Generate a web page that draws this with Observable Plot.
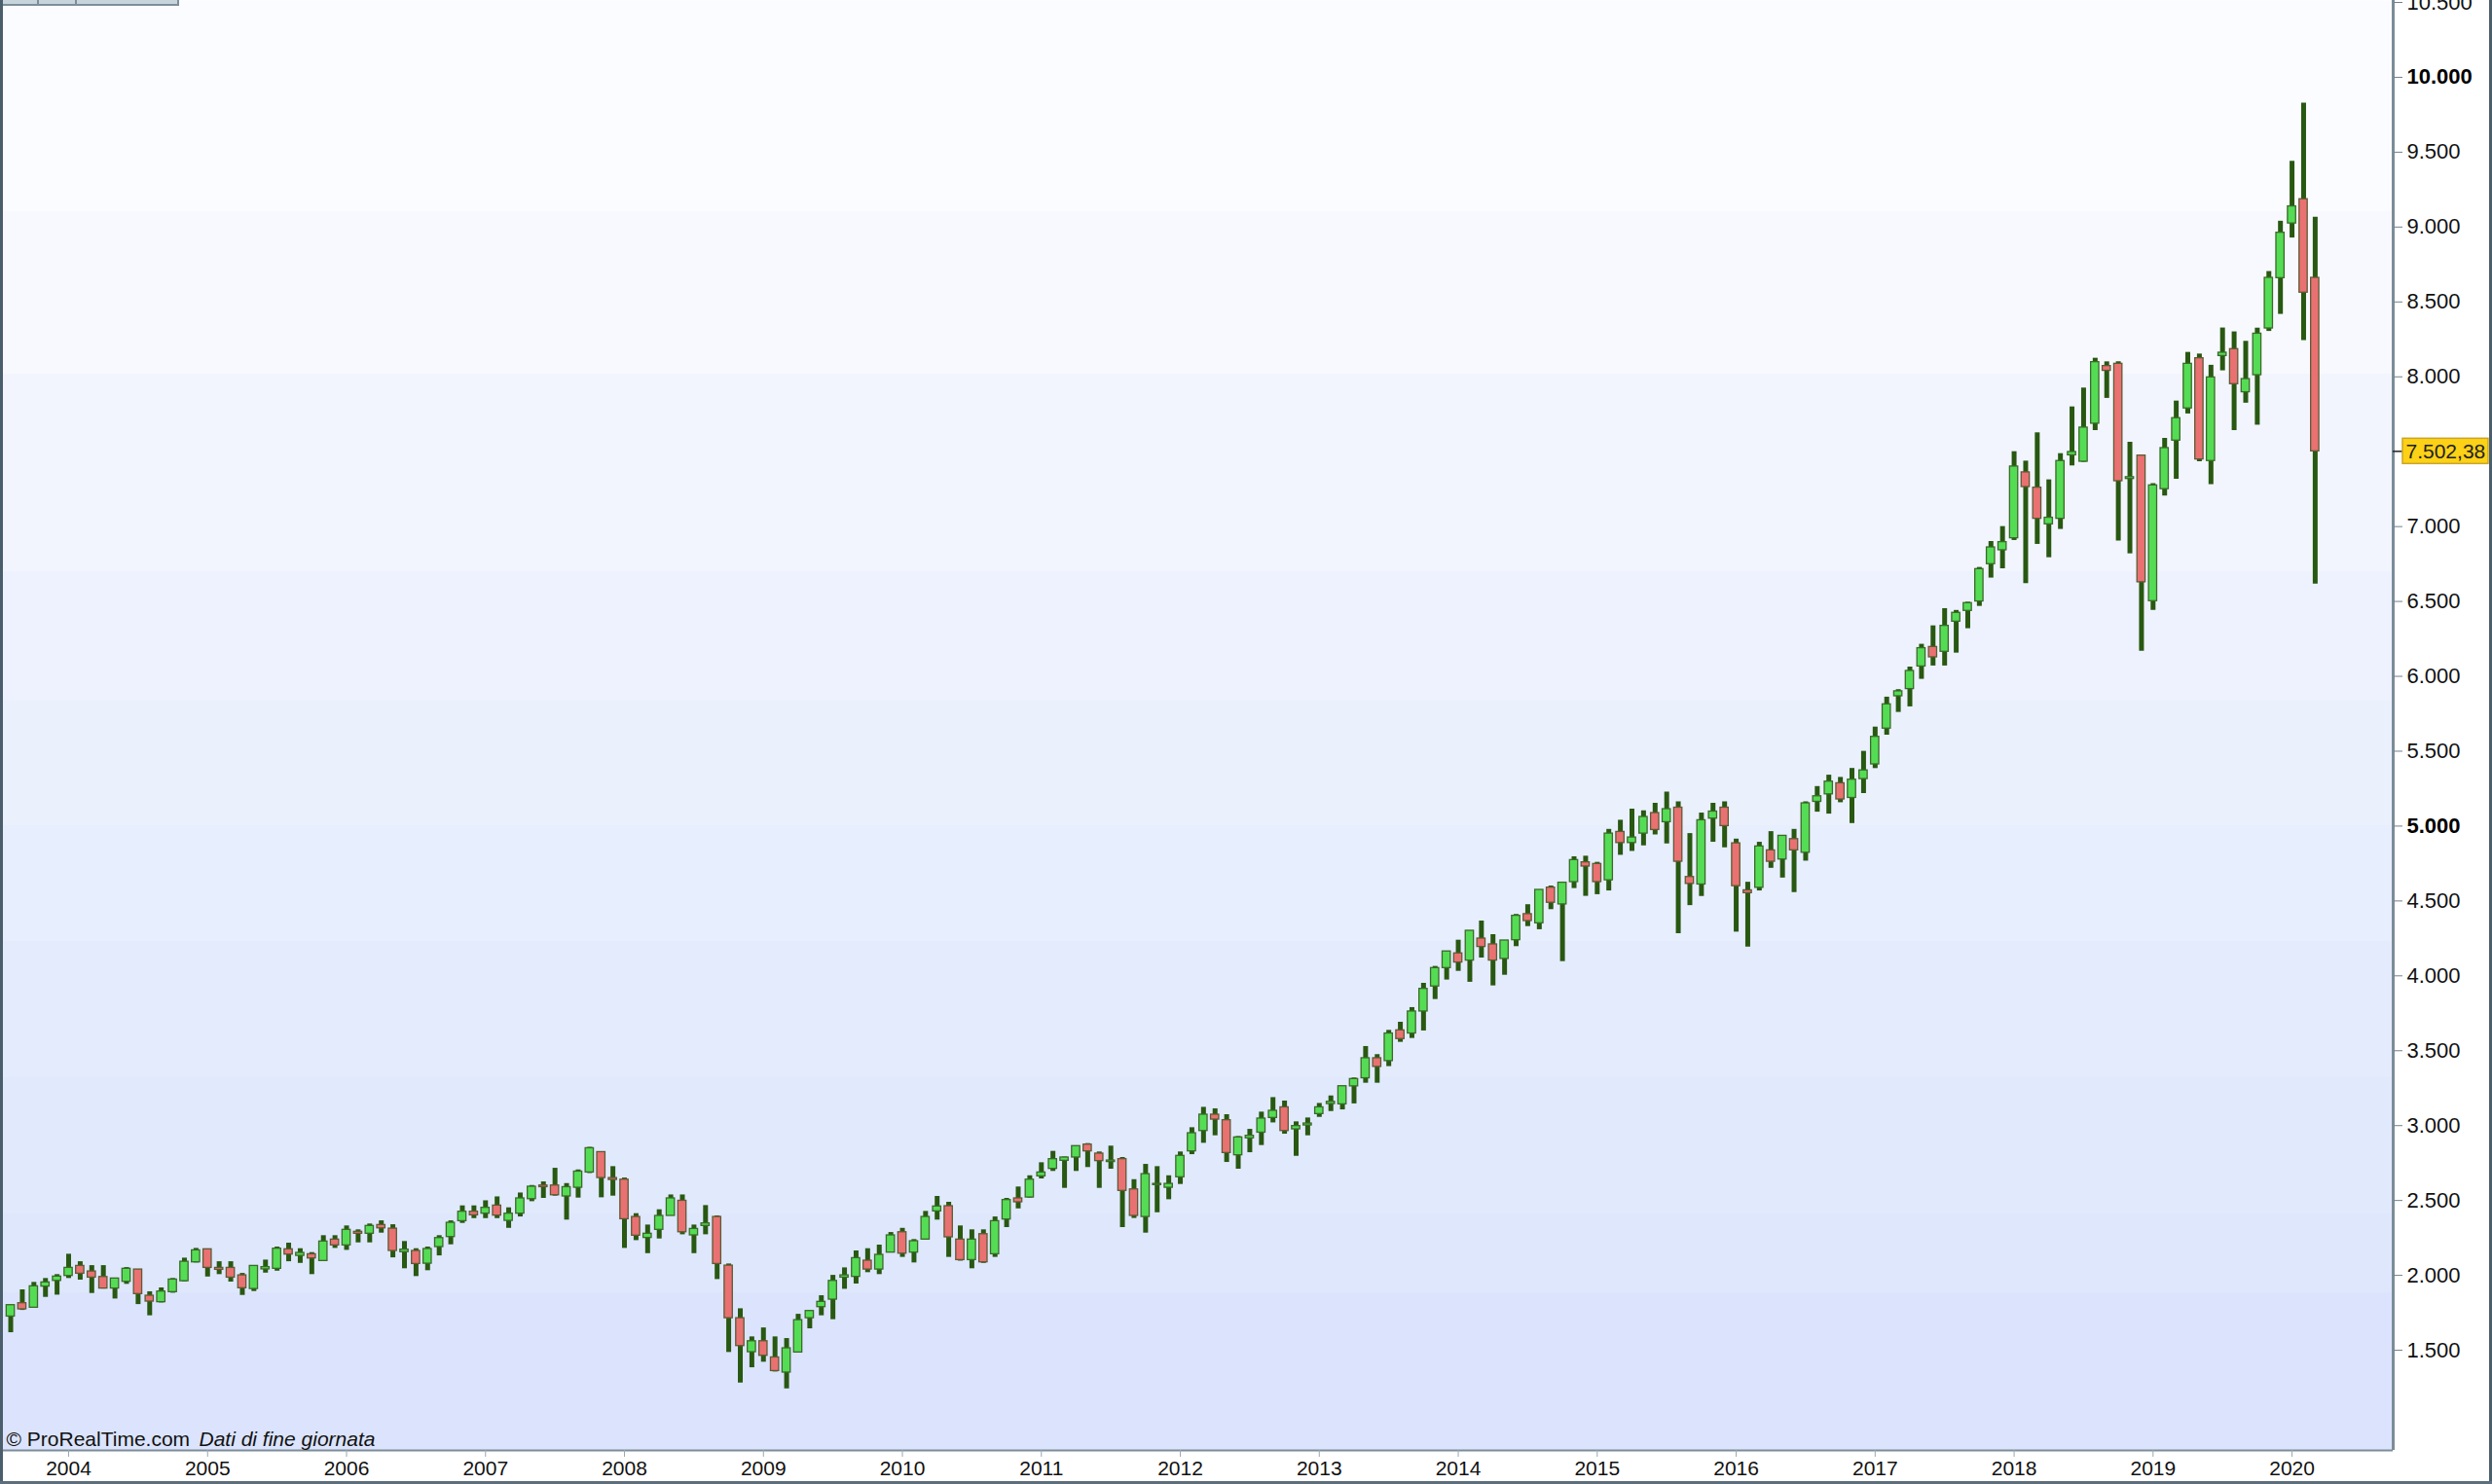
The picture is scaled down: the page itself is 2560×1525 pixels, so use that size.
<!DOCTYPE html>
<html>
<head>
<meta charset="utf-8">
<script src="https://cdn.jsdelivr.net/npm/d3@7"></script>
<script src="https://cdn.jsdelivr.net/npm/@observablehq/plot@0.6"></script>
<style>
  html, body { margin: 0; padding: 0; background: #ffffff; overflow: hidden; }
  #wrap { position: relative; width: 2560px; height: 1525px; overflow: hidden; font-family: "Liberation Sans", Arial, sans-serif; }
  #chart svg { display: block; max-width: none; }
  .edge { position: absolute; background: #4b5e6c; }
  #tabs { position: absolute; left: 0; top: 0; width: 182px; height: 4px; background: #c8d4dc; border-right: 2px solid #7d8e99; border-bottom: 2px solid #7d8e99; }
  #tabs .div { position: absolute; top: 0; width: 2px; height: 4px; background: #7d8e99; }
</style>
</head>
<body>
<div id="wrap">
  <div id="chart"></div>
  <div id="tabs"><div class="div" style="left:38px"></div><div class="div" style="left:77px"></div></div>
  <div class="edge" style="left:0;top:0;width:3px;height:1525px"></div>
  <div class="edge" style="left:2557px;top:0;width:3px;height:1525px"></div>
  <div class="edge" style="left:0;top:1522px;width:2560px;height:3px;background:#5d6f7c"></div>
</div>
<script>
// ---- Data: monthly candles, first candle = August 2003 ----
const firstMonth = [2003, 8];

const open = [
  1725, 1814, 1784, 1925, 1963,                                            // 2003 Aug-Dec
  1996, 2063, 2026, 1989, 1912, 1957, 2039, 1864, 1821, 1888, 1961, 2087,  // 2004
  2174, 2050, 2050, 2000, 1909, 2040, 2044, 2174, 2130, 2141, 2096, 2239,  // 2005
  2200, 2291, 2278, 2336, 2312, 2155, 2163, 2078, 2189, 2256, 2362, 2425,  // 2006
  2412, 2466, 2364, 2412, 2509, 2600, 2600, 2527, 2585, 2687, 2823, 2650,  // 2007
  2639, 2390, 2250, 2304, 2397, 2498, 2267, 2330, 2390, 2065, 1714, 1487,  // 2008
  1560, 1452, 1351, 1485, 1714, 1788, 1838, 1985, 1990, 2098, 2039, 2152,  // 2009
  2288, 2152, 2239, 2427, 2462, 2239, 2102, 2275, 2141, 2373, 2514, 2520,  // 2010
  2661, 2711, 2765, 2787, 2873, 2813, 2757, 2776, 2574, 2390, 2603, 2585,  // 2011
  2655, 2828, 2964, 3073, 3036, 2802, 2915, 2953, 3051, 3122, 2975, 3001,  // 2012
  3077, 3144, 3142, 3262, 3316, 3450, 3431, 3636, 3615, 3762, 3929, 4052,  // 2013
  4150, 4102, 4249, 4210, 4113, 4238, 4412, 4351, 4589, 4477, 4626, 4758,  // 2014
  4747, 4638, 4961, 4887, 4950, 5087, 5026, 5123, 4660, 4610, 5050, 5123,  // 2015
  4885, 4571, 4588, 4838, 4777, 4913, 4822, 5162, 5212, 5286, 5188, 5314,  // 2016
  5412, 5651, 5867, 5915, 6066, 6196, 6164, 6365, 6437, 6500, 6749, 6842,  // 2017
  6922, 7362, 7260, 7015, 7052, 7476, 7433, 7687, 8072, 8087, 7318, 7474,  // 2018
  6502, 7250, 7574, 7789, 8124, 7438, 8139, 8185, 7897, 8011, 8323, 8659,  // 2019
  9024, 9186, 8661                                                         // 2020 Jan-Mar
];
const high = [
  1801, 1903, 1953, 1979, 2005,
  2141, 2091, 2065, 2065, 1979, 2052, 2039, 1890, 1916, 1979, 2115, 2180,
  2174, 2091, 2091, 2013, 2063, 2102, 2189, 2215, 2178, 2152, 2265, 2265,
  2330, 2304, 2343, 2364, 2338, 2226, 2178, 2189, 2265, 2364, 2464, 2464,
  2498, 2524, 2451, 2550, 2600, 2624, 2715, 2613, 2704, 2855, 2823, 2726,
  2650, 2412, 2336, 2438, 2537, 2537, 2336, 2466, 2397, 2076, 1777, 1589,
  1649, 1589, 1578, 1740, 1762, 1864, 2000, 2050, 2163, 2178, 2202, 2286,
  2314, 2239, 2427, 2527, 2488, 2330, 2304, 2304, 2390, 2514, 2590, 2665,
  2752, 2828, 2790, 2863, 2880, 2824, 2863, 2787, 2639, 2741, 2726, 2665,
  2824, 2986, 3122, 3112, 3073, 2927, 2975, 3090, 3187, 3164, 3025, 3051,
  3148, 3198, 3263, 3318, 3528, 3474, 3636, 3690, 3788, 3950, 4063, 4163,
  4238, 4301, 4366, 4275, 4236, 4410, 4475, 4574, 4600, 4622, 4795, 4799,
  4758, 4978, 5039, 5113, 5102, 5152, 5227, 5162, 4950, 5087, 5152, 5162,
  4913, 4625, 4892, 4963, 4935, 4978, 5162, 5264, 5340, 5325, 5385, 5499,
  5661, 5861, 5911, 6062, 6214, 6337, 6452, 6440, 6495, 6727, 6900, 7000,
  7500, 7437, 7626, 7312, 7487, 7799, 7925, 8124, 8100, 8100, 7563, 7474,
  7286, 7589, 7838, 8163, 8152, 8077, 8326, 8300, 8237, 8325, 8703, 9039,
  9439, 9828, 9066
];
const low = [
  1617, 1766, 1784, 1853, 1868,
  1979, 1968, 1879, 1909, 1842, 1940, 1805, 1730, 1816, 1881, 1957, 2083,
  1989, 2005, 1955, 1866, 1892, 2015, 2028, 2091, 2080, 2005, 2096, 2180,
  2167, 2217, 2217, 2282, 2117, 2044, 1992, 2031, 2130, 2204, 2347, 2379,
  2379, 2379, 2314, 2390, 2492, 2514, 2529, 2369, 2516, 2680, 2518, 2529,
  2180, 2232, 2145, 2243, 2397, 2271, 2145, 2271, 1972, 1485, 1281, 1383,
  1420, 1355, 1242, 1485, 1643, 1730, 1704, 1907, 1942, 2018, 2005, 2152,
  2120, 2083, 2239, 2369, 2120, 2095, 2044, 2080, 2120, 2319, 2444, 2516,
  2644, 2694, 2581, 2694, 2720, 2581, 2709, 2319, 2380, 2282, 2418, 2505,
  2607, 2806, 2882, 2932, 2754, 2709, 2819, 2867, 3018, 2943, 2795, 2932,
  3055, 3094, 3105, 3145, 3283, 3283, 3394, 3556, 3582, 3632, 3842, 3972,
  4030, 3957, 4119, 3933, 4004, 4195, 4329, 4308, 4442, 4095, 4583, 4531,
  4542, 4567, 4805, 4831, 4868, 4941, 4881, 4281, 4469, 4530, 4892, 4855,
  4292, 4192, 4567, 4718, 4653, 4556, 4766, 5093, 5080, 5156, 5017, 5217,
  5384, 5607, 5759, 5796, 5980, 6069, 6069, 6155, 6318, 6467, 6656, 6718,
  6907, 6619, 6881, 6792, 6981, 7405, 7429, 7641, 7856, 6903, 6818, 6168,
  6441, 7204, 7316, 7752, 7433, 7280, 8040, 7641, 7824, 7677, 8303, 8417,
  8927, 8242, 6616
];
const close = [
  1801, 1773, 1927, 1953, 1992,
  2050, 2011, 1985, 1912, 1979, 2044, 1875, 1825, 1892, 1972, 2091, 2167,
  2050, 2037, 1985, 1914, 2063, 2055, 2178, 2139, 2150, 2113, 2226, 2200,
  2304, 2278, 2330, 2314, 2163, 2172, 2076, 2176, 2249, 2351, 2425, 2401,
  2451, 2399, 2412, 2514, 2592, 2589, 2535, 2589, 2693, 2849, 2650, 2637,
  2375, 2265, 2278, 2397, 2514, 2288, 2310, 2347, 2076, 1714, 1528, 1560,
  1463, 1361, 1513, 1701, 1762, 1823, 1963, 2000, 2115, 2039, 2137, 2267,
  2145, 2228, 2390, 2460, 2254, 2102, 2239, 2087, 2362, 2503, 2488, 2639,
  2687, 2776, 2787, 2863, 2828, 2763, 2767, 2564, 2397, 2676, 2611, 2611,
  2798, 2949, 3073, 3040, 2817, 2921, 2932, 3047, 3099, 2964, 2997, 3014,
  3122, 3159, 3263, 3311, 3450, 3392, 3615, 3578, 3762, 3913, 4052, 4163,
  4089, 4301, 4193, 4102, 4236, 4401, 4366, 4574, 4488, 4622, 4773, 4730,
  4626, 4950, 4887, 4924, 5061, 4974, 5113, 4762, 4614, 5039, 5097, 5000,
  4599, 4552, 4864, 4762, 4935, 4838, 5152, 5199, 5297, 5178, 5310, 5372,
  5596, 5813, 5900, 6036, 6188, 6127, 6337, 6424, 6489, 6716, 6861, 6896,
  7401, 7264, 7052, 7059, 7438, 7498, 7661, 8098, 8040, 7303, 7330, 6628,
  7275, 7524, 7724, 8087, 7448, 7996, 8161, 7951, 7985, 8288, 8661, 8962,
  9138, 8562, 7502.38
];

const yearTicks = [2004, 2005, 2006, 2007, 2008, 2009, 2010, 2011, 2012, 2013, 2014, 2015, 2016, 2017, 2018, 2019, 2020];
const priceTicks = [1500, 2000, 2500, 3000, 3500, 4000, 4500, 5500, 6000, 6500, 7000, 8000, 8500, 9000, 9500, 10500];
const boldPriceTicks = [5000, 10000];
const lastPrice = 7502.38;
const creditText = "© ProRealTime.com";
const creditNote = "Dati di fine giornata";

// ---- Layout ----
const W = 2560, H = 1525;
const MR = 102, MB = 35;
const X_DOMAIN = [2003.5096, 2020.728];
const Y_DOMAIN = [831, 10513];
const plotW = W - MR, plotH = H - MB;
const unitsPerPx = (X_DOMAIN[1] - X_DOMAIN[0]) / plotW;
const pxToX = px => X_DOMAIN[0] + px * unitsPerPx;
const valPerPx = (Y_DOMAIN[1] - Y_DOMAIN[0]) / plotH;
const halfBody = 4.2 * unitsPerPx;

const loc = d3.formatLocale({decimal: ",", thousands: ".", grouping: [3], currency: ["", ""]});
const fmt0 = loc.format(",d");
const fmt2 = loc.format(",.2f");

const rows = close.map((c, i) => ({
  t: firstMonth[0] + (firstMonth[1] - 1) / 12 + i / 12,
  o: open[i], h: high[i], l: low[i], c
}));
const up = rows.filter(d => d.c >= d.o);
const down = rows.filter(d => d.c < d.o);

const bodyOpts = {
  x1: d => d.t - halfBody,
  x2: d => d.t + halfBody,
  y1: d => Math.min(d.o, d.c),
  y2: d => Math.max(d.o, d.c),
  strokeWidth: 1.3
};

const chart = Plot.plot({
  width: W, height: H,
  marginLeft: 0, marginRight: MR, marginTop: 0, marginBottom: MB,
  x: {type: "linear", domain: X_DOMAIN, label: null},
  y: {type: "linear", domain: Y_DOMAIN, label: null},
  style: {fontFamily: "'Liberation Sans', Arial, sans-serif", background: "transparent", color: "#111"},
  marks: [
    Plot.frame({fill: "url(#bgBands)", stroke: "none"}),
    Plot.ruleX(rows, {x: "t", y1: "l", y2: "h", stroke: "#285811", strokeWidth: 5}),
    Plot.rect(up, {...bodyOpts, fill: "#55dc55", stroke: "#3a6a28"}),
    Plot.rect(down, {...bodyOpts, fill: "#ea7171", stroke: "#5e5a34"}),
    Plot.ruleY([Y_DOMAIN[0]], {stroke: "#7c8d99", strokeWidth: 2}),
    Plot.ruleX([X_DOMAIN[1]], {stroke: "#7c8d99", strokeWidth: 3}),
    Plot.axisY(priceTicks, {anchor: "right", label: null, tickSize: 9, tickPadding: 5, tickFormat: fmt0, fontSize: 22, stroke: "#6f808c", fill: "#111"}),
    Plot.axisY(boldPriceTicks, {anchor: "right", label: null, tickSize: 9, tickPadding: 5, tickFormat: fmt0, fontSize: 22, fontWeight: "bold", stroke: "#6f808c", fill: "#000"}),
    Plot.axisX(yearTicks, {anchor: "bottom", label: null, tickSize: 7, tickPadding: 4, tickFormat: d => String(d), fontSize: 21, stroke: "#9aa8b2", fill: "#111"}),
    Plot.ruleY([lastPrice], {x1: () => X_DOMAIN[1], x2: () => pxToX(2468), stroke: "#222", strokeWidth: 1.5}),
    Plot.rect([lastPrice], {
      x1: () => pxToX(2468), x2: () => pxToX(2556),
      y1: d => d - 13 * valPerPx, y2: d => d + 13 * valPerPx,
      fill: "#fcd116", stroke: "#c9a52a", strokeWidth: 1.5
    }),
    Plot.text([lastPrice], {x: () => pxToX(2471), y: d => d, text: d => fmt2(d), textAnchor: "start", fontSize: 21, fill: "#222"}),
    Plot.text([creditText], {frameAnchor: "bottom-left", text: d => d, dx: 6, dy: -5, lineAnchor: "bottom", textAnchor: "start", fontSize: 21, fill: "#111"}),
    Plot.text([creditNote], {frameAnchor: "bottom-left", text: d => d, dx: 204, dy: -5, lineAnchor: "bottom", textAnchor: "start", fontSize: 21, fontStyle: "italic", fill: "#111"})
  ]
});

// stepped background bands (vertical gradient)
const bands = [0, 217, 384, 587, 720, 848, 967, 1107, 1247, 1328, plotH];
const shade = d3.interpolateRgb("#fefeff", "#d9e3fc");
const svg = d3.select(chart.tagName.toLowerCase() === "svg" ? chart : chart.querySelector("svg"));
const grad = svg.insert("defs", ":first-child").append("linearGradient")
  .attr("id", "bgBands").attr("gradientUnits", "userSpaceOnUse")
  .attr("x1", 0).attr("y1", 0).attr("x2", 0).attr("y2", plotH);
for (let i = 0; i < bands.length - 1; i++) {
  const col = shade(((bands[i] + bands[i + 1]) / 2) / plotH);
  grad.append("stop").attr("offset", bands[i] / plotH).attr("stop-color", col);
  grad.append("stop").attr("offset", bands[i + 1] / plotH).attr("stop-color", col);
}

document.getElementById("chart").appendChild(chart);
</script>
</body>
</html>
